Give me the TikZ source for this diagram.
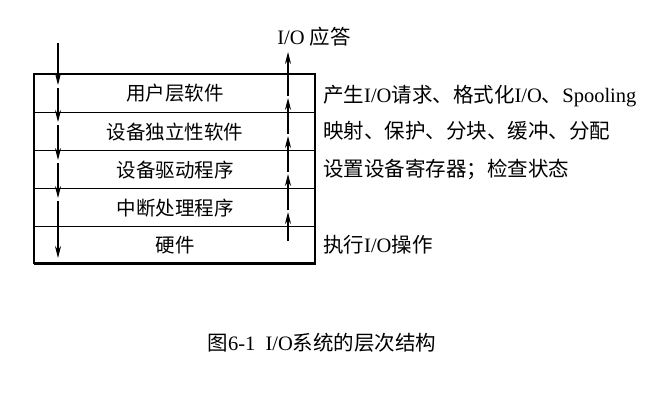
\documentclass[tikz,border=0pt]{standalone}
\usepackage{fontspec}
\setmainfont{Liberation Serif}
\newfontfamily\cjk{Noto Sans CJK SC}
\usetikzlibrary{arrows.meta}
\begin{document}
\begin{tikzpicture}[x=1pt,y=-1pt,
  lay/.style={draw,line width=1.2pt,minimum width=281pt,minimum height=38pt,inner sep=0pt,font=\cjk\fontsize{19.5}{19}\selectfont,anchor=north west},
  lab/.style={anchor=west,font=\fontsize{20.5}{20}\selectfont,inner sep=0pt},
  arr/.style={-{Stealth[length=12pt,width=6pt]},line width=1.1pt}]
\useasboundingbox (0,0) rectangle (667,413);
\node[lay] (l1) at (34,74) {用户层软件};
\node[lay] (l2) at (34,112) {设备独立性软件};
\node[lay] (l3) at (34,150) {设备驱动程序};
\node[lay] (l4) at (34,188) {中断处理程序};
\node[lay] (l5) at (34,226) {硬件};
\draw[line width=1.4pt] (34,74) rectangle (315,263);
% down arrow
\foreach \a/\b in {43/85,88/122,125/160,163/198,201/258}
  \draw[arr] (58,\a) -- (58,\b);
% up arrow
\foreach \a/\b in {241/212,210/174,172/136,134/98,96/52}
  \draw[arr] (288,\a) -- (288,\b);
\node[lab,anchor=south] (resp) at (314,46) {I/O {\cjk 应答}};
\node[lab] (t1) at (323,96) {{\cjk 产生}I/O{\cjk 请求、格式化}I/O{\cjk 、}Spooling};
\node[lab] (t2) at (323,131) {\cjk 映射、保护、分块、缓冲、分配};
\node[lab] (t3) at (323,169) {\cjk 设置设备寄存器；检查状态};
\node[lab] (t4) at (323,245) {{\cjk 执行}I/O{\cjk 操作}};
\node[lab,anchor=center] (cap) at (322,343) {{\cjk 图}6-1\ \ I/O{\cjk 系统的层次结构}};
\end{tikzpicture}
\end{document}
